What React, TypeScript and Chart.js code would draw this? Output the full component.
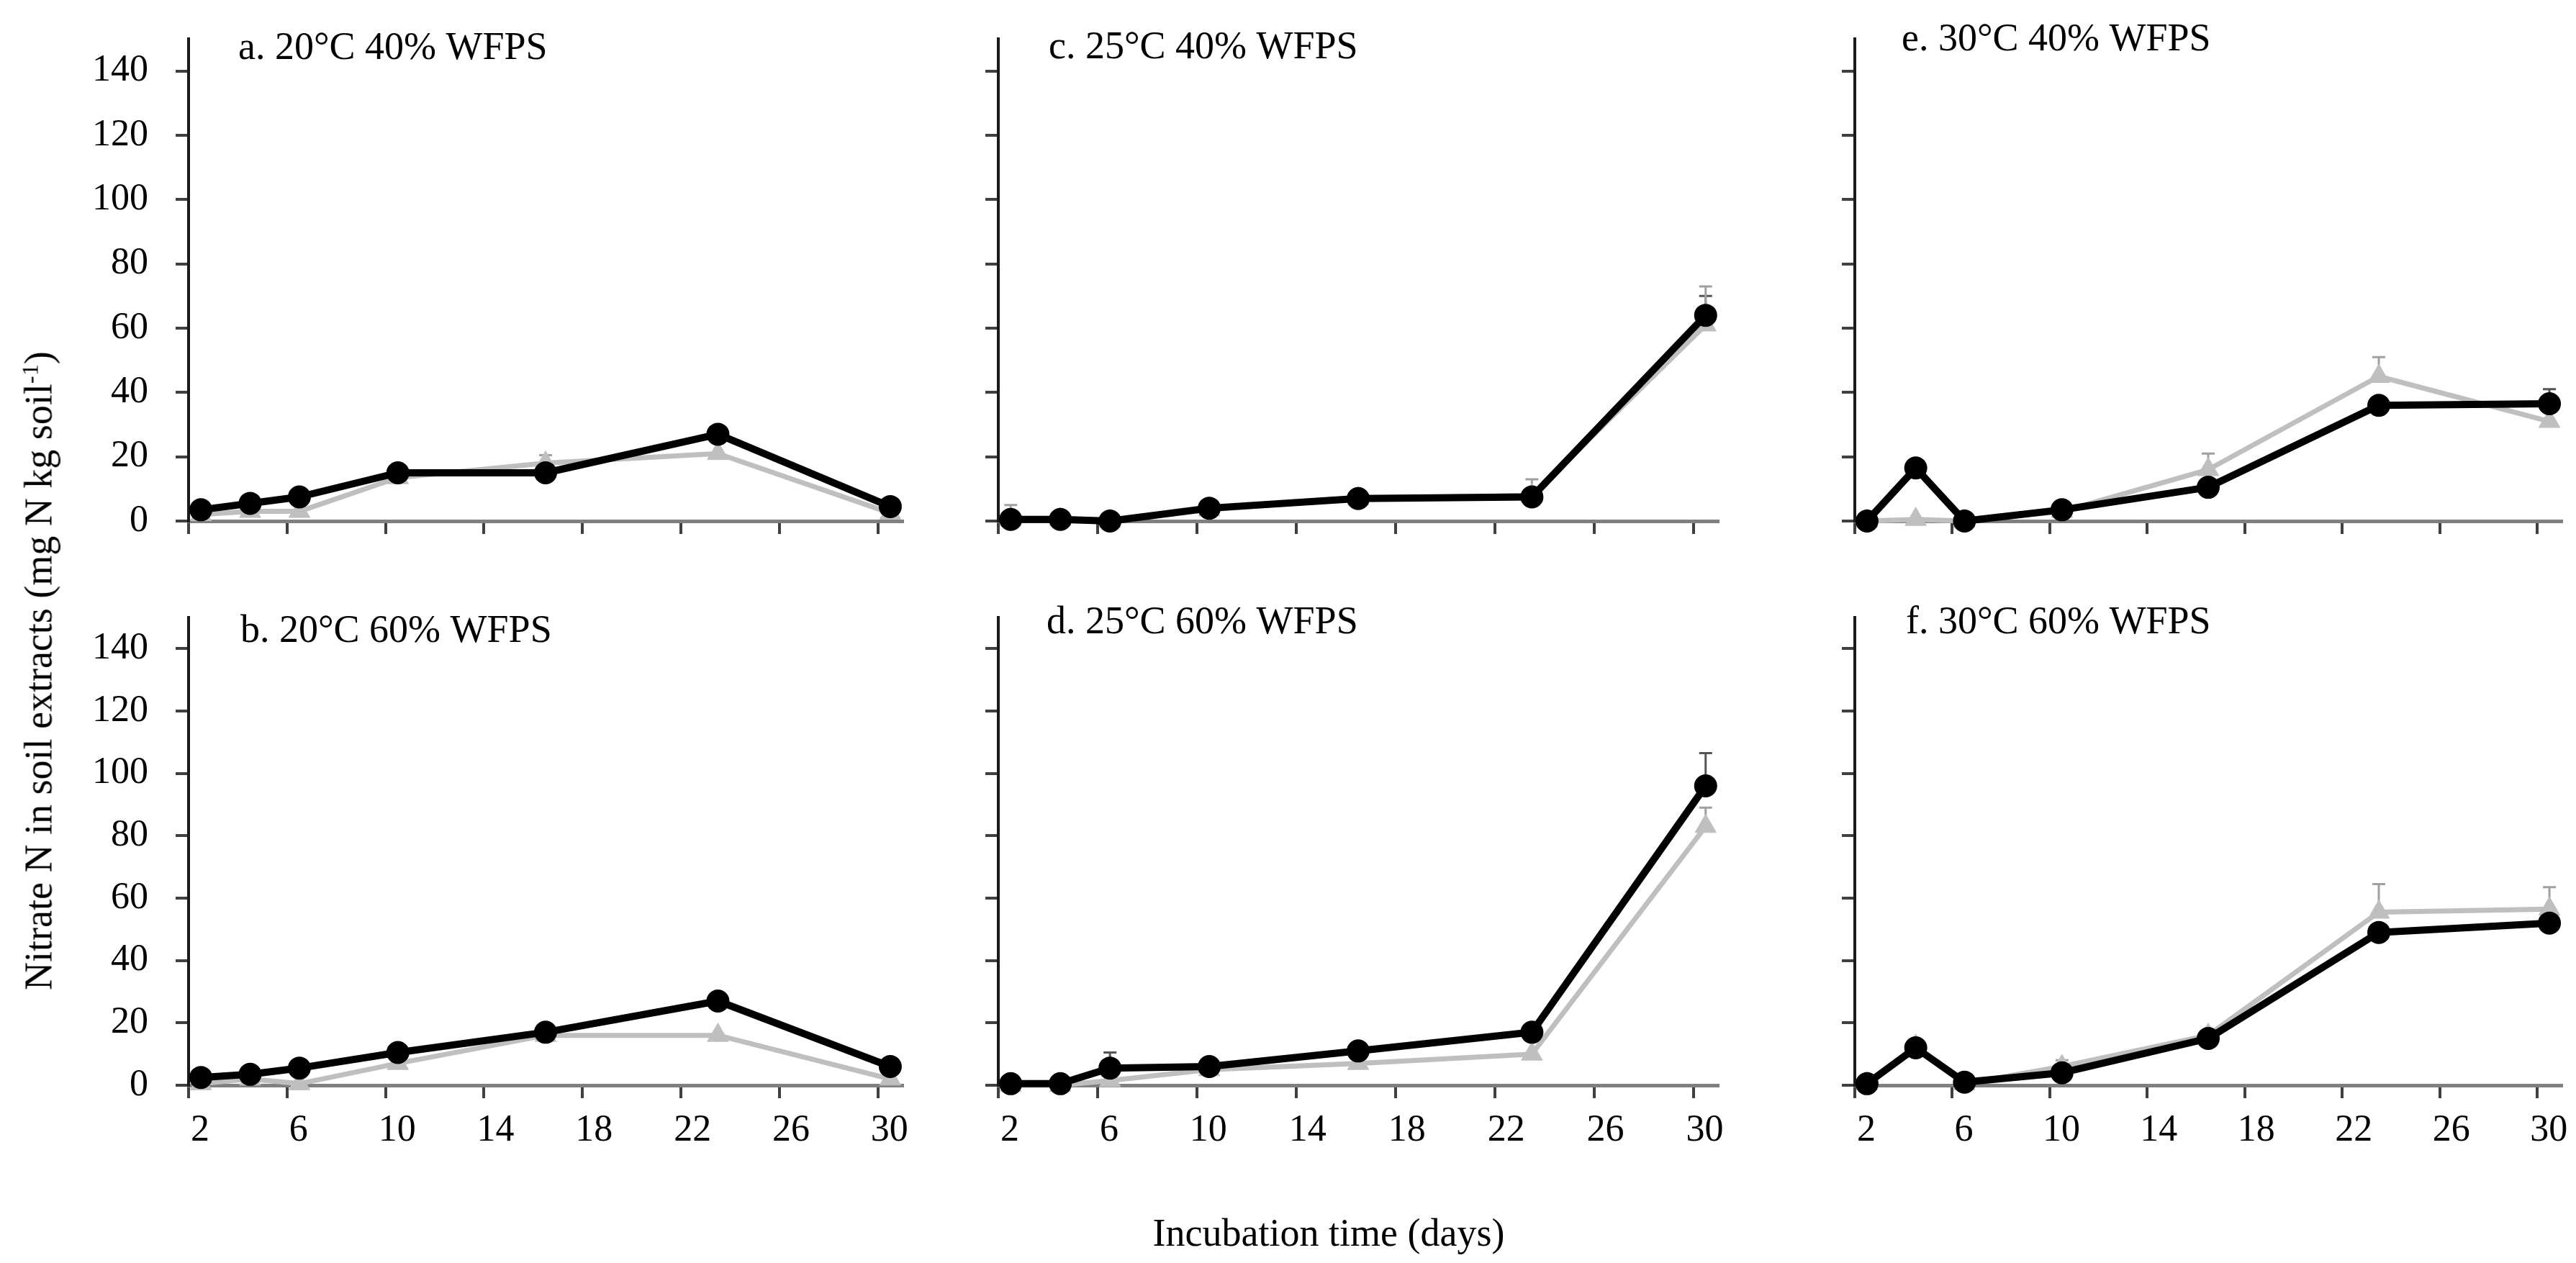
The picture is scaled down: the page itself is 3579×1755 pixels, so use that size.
import { useEffect, useRef } from 'react';
import { Chart, registerables } from 'chart.js';

Chart.register(...registerables);

// sampling days and axis ticks
const days = [2, 4, 6, 10, 16, 23, 30];
const xTicks = [2, 6, 10, 14, 18, 22, 26, 30];
const yTicks = [0, 20, 40, 60, 80, 100, 120, 140];

const panelTitles = [
  'a. 20°C 40% WFPS',
  'b. 20°C 60% WFPS',
  'c. 25°C 40% WFPS',
  'd. 25°C 60% WFPS',
  'e. 30°C 40% WFPS',
  'f. 30°C 60% WFPS',
];

// nitrate N (mg N kg soil-1), black = circles, gray = triangles
const blackA = [3.5, 5.5, 7.5, 15, 15, 27, 4.5];
const grayA = [2, 3, 3, 13.5, 18, 21, 2.5];
const blackB = [2.5, 3.5, 5.5, 10.5, 17, 27, 6];
const grayB = [0.5, 2, 0.5, 7, 16, 16, 2];
const blackC = [0.5, 0.5, 0, 4, 7, 7.5, 64];
const grayC = [0.5, 0.5, 0, 3.5, 7, 8, 61];
const blackD = [0.5, 0.5, 5.5, 6, 11, 17, 96];
const grayD = [0, 0, 1.5, 5, 7, 10, 83];
const blackE = [0, 16.5, 0, 3.5, 10.5, 36, 36.5];
const grayE = [0, 0.5, 0, 3, 16, 45, 31];
const blackF = [0.5, 12, 1, 4, 15, 49, 52];
const grayF = [0.5, 12.5, 0.5, 6, 16, 55.5, 56.5];

// upper error bars
const errBlackA = [0, 0, 0, 0, 0, 0, 0];
const errGrayA = [0, 0, 0, 0, 2.5, 0, 0];
const errBlackB = [0, 0, 0, 0, 0, 0, 0];
const errGrayB = [0, 0, 0, 0, 0, 0, 0];
const errBlackC = [0, 0, 0, 0, 0, 0, 6];
const errGrayC = [4.5, 0, 0, 0, 0, 5, 12];
const errBlackD = [0, 0, 5, 0, 0, 0, 10.5];
const errGrayD = [0, 0, 0, 0, 0, 0, 6];
const errBlackE = [0, 0, 0, 0, 0, 0, 4.5];
const errGrayE = [0, 0, 0, 0, 5, 6, 0];
const errBlackF = [0, 0, 0, 0, 0, 0, 0];
const errGrayF = [0, 0, 0, 2, 0, 9, 7];

const FONT = '"Liberation Serif", "Times New Roman", serif';
const PAD_L = 250;
const PAD_R = 40;
const PAD_T = 80; // must exceed the y scale's own label padding (half label + ticks.padding)
const PAD_B = 120;
const X_SHIFT = 0.5; // points sit half a day right of the tick, as in the original

const errorBars = {
  id: 'errorBars',
  beforeDatasetsDraw(chart: any) {
    const { ctx } = chart;
    const y = chart.scales.y;
    chart.data.datasets.forEach((ds: any, i: number) => {
      const meta = chart.getDatasetMeta(i);
      ctx.save();
      ctx.strokeStyle = ds.errColor;
      ctx.lineWidth = 3;
      meta.data.forEach((pt: any, j: number) => {
        const e = ds.errors[j];
        if (!e) return;
        const top = y.getPixelForValue(ds.data[j].y + e);
        ctx.beginPath();
        ctx.moveTo(pt.x, pt.y);
        ctx.lineTo(pt.x, top);
        ctx.moveTo(pt.x - 9, top);
        ctx.lineTo(pt.x + 9, top);
        ctx.stroke();
      });
      ctx.restore();
    });
  },
};

const panelLabel = {
  id: 'panelLabel',
  afterDraw(chart: any) {
    const o = chart.options.plugins.panelLabel;
    const { ctx, chartArea } = chart;
    ctx.save();
    ctx.font = `54px ${FONT}`;
    ctx.fillStyle = '#000';
    ctx.textBaseline = 'middle';
    ctx.fillText(o.text, chartArea.left + o.dx, chartArea.top + o.dy);
    ctx.restore();
  },
};

interface PanelProps {
  title: string;
  black: number[];
  gray: number[];
  errBlack: number[];
  errGray: number[];
  left: number;
  right: number;
  top: number;
  bottom: number;
  showX: boolean;
  showY: boolean;
  dx: number;
  dy: number;
}

function Panel(p: PanelProps) {
  const ref = useRef<HTMLCanvasElement>(null);
  const w = p.right - p.left + PAD_L + PAD_R;
  const h = p.bottom - p.top + PAD_T + PAD_B;

  useEffect(() => {
    if (!ref.current) return;
    const chart = new Chart(ref.current, {
      type: 'line',
      data: {
        datasets: [
          {
            data: days.map((d, i) => ({ x: d + X_SHIFT, y: p.black[i] })),
            borderColor: '#000',
            borderWidth: 10,
            borderJoinStyle: 'round',
            pointStyle: 'circle',
            pointRadius: 15,
            pointBackgroundColor: '#000',
            pointBorderColor: '#000',
            pointBorderWidth: 2,
            clip: false,
            errors: p.errBlack,
            errColor: '#555',
          } as any,
          {
            data: days.map((d, i) => ({ x: d + X_SHIFT, y: p.gray[i] })),
            borderColor: '#bfbfbf',
            borderWidth: 7,
            borderJoinStyle: 'round',
            pointStyle: 'triangle',
            pointRadius: 17,
            pointBackgroundColor: '#bfbfbf',
            pointBorderColor: '#bfbfbf',
            pointBorderWidth: 1,
            clip: false,
            errors: p.errGray,
            errColor: '#a0a0a0',
          } as any,
        ],
      },
      options: {
        animation: false,
        responsive: false,
        events: [],
        layout: { padding: { top: PAD_T, right: PAD_R, left: 0, bottom: 0 } },
        plugins: {
          legend: { display: false },
          tooltip: { enabled: false },
          panelLabel: { text: p.title, dx: p.dx, dy: p.dy },
        } as any,
        scales: {
          x: {
            type: 'linear',
            min: 2,
            max: 31,
            afterFit: (s: any) => {
              s.height = PAD_B;
            },
            afterBuildTicks: (s: any) => {
              s.ticks = xTicks.map((v) => ({ value: v }));
            },
            ticks: {
              includeBounds: false,
              autoSkip: false,
              maxRotation: 0,
              color: '#000',
              font: { family: FONT, size: 52 },
              labelOffset: 16,
              padding: 14,
              callback: (v: any) => (p.showX ? String(v) : ''),
            },
            grid: {
              drawOnChartArea: false,
              drawTicks: true,
              tickLength: 18,
              color: '#404040',
              lineWidth: 4,
            },
            border: { display: true, color: '#808080', width: 5 },
          } as any,
          y: {
            type: 'linear',
            min: 0,
            max: 150,
            afterFit: (s: any) => {
              s.width = PAD_L;
            },
            afterBuildTicks: (s: any) => {
              s.ticks = yTicks.map((v) => ({ value: v }));
            },
            ticks: {
              includeBounds: false,
              color: '#000',
              font: { family: FONT, size: 52 },
              padding: 38,
              callback: (v: any) => (p.showY ? String(v) : ''),
            },
            grid: {
              drawOnChartArea: false,
              drawTicks: true,
              tickLength: 18,
              color: '#404040',
              lineWidth: 4,
            },
            border: { display: true, color: '#1a1a1a', width: 4 },
          } as any,
        },
      },
      plugins: [errorBars, panelLabel],
    });
    return () => chart.destroy();
  }, []);

  return (
    <canvas
      ref={ref}
      width={w}
      height={h}
      style={{
        position: 'absolute',
        left: p.left - PAD_L,
        top: p.top - PAD_T,
        width: w,
        height: h,
      }}
    />
  );
}

const TOP_ROW = { top: 54, bottom: 724 };
const BOTTOM_ROW = { top: 858, bottom: 1508 };
const COL_A = { left: 262, right: 1254 };
const COL_C = { left: 1387, right: 2387 };
const COL_E = { left: 2577, right: 3559 };

export default function App() {
  return (
    <div
      style={{
        position: 'absolute',
        left: 0,
        top: 0,
        width: 3579,
        height: 1755,
        background: '#fff',
        overflow: 'hidden',
        fontFamily: FONT,
      }}
    >
      <Panel title={panelTitles[0]} black={blackA} gray={grayA} errBlack={errBlackA} errGray={errGrayA}
        {...COL_A} {...TOP_ROW} showX={false} showY={true} dx={69} dy={14} />
      <Panel title={panelTitles[1]} black={blackB} gray={grayB} errBlack={errBlackB} errGray={errGrayB}
        {...COL_A} {...BOTTOM_ROW} showX={true} showY={true} dx={72} dy={20} />
      <Panel title={panelTitles[2]} black={blackC} gray={grayC} errBlack={errBlackC} errGray={errGrayC}
        {...COL_C} {...TOP_ROW} showX={false} showY={false} dx={70} dy={13} />
      <Panel title={panelTitles[3]} black={blackD} gray={grayD} errBlack={errBlackD} errGray={errGrayD}
        {...COL_C} {...BOTTOM_ROW} showX={true} showY={false} dx={67} dy={8} />
      <Panel title={panelTitles[4]} black={blackE} gray={grayE} errBlack={errBlackE} errGray={errGrayE}
        {...COL_E} {...TOP_ROW} showX={false} showY={false} dx={65} dy={2} />
      <Panel title={panelTitles[5]} black={blackF} gray={grayF} errBlack={errBlackF} errGray={errGrayF}
        {...COL_E} {...BOTTOM_ROW} showX={true} showY={false} dx={71} dy={8} />
      <div
        style={{
          position: 'absolute',
          left: 1846,
          top: 1713,
          transform: 'translate(-50%, -50%)',
          fontSize: 54,
          lineHeight: 1,
          whiteSpace: 'nowrap',
          color: '#000',
        }}
      >
        Incubation time (days)
      </div>
      <div
        style={{
          position: 'absolute',
          left: 53,
          top: 932,
          transform: 'translate(-50%, -50%) rotate(-90deg)',
          fontSize: 54,
          lineHeight: 1,
          whiteSpace: 'nowrap',
          color: '#000',
        }}
      >
        Nitrate N in soil extracts (mg N kg soil<sup style={{ fontSize: '60%' }}>-1</sup>)
      </div>
    </div>
  );
}
